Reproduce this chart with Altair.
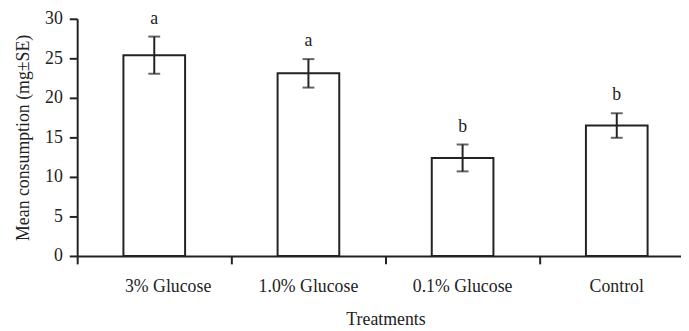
import altair as alt
import pandas as pd

treatments = ["3% Glucose", "1.0% Glucose", "0.1% Glucose", "Control"]
means = [25.4, 23.1, 12.4, 16.5]
ses = [2.35, 1.8, 1.7, 1.55]
letters = ["a", "a", "b", "b"]
y_ticks = [0, 5, 10, 15, 20, 25, 30]

df = pd.DataFrame({"treatment": treatments, "mean": means, "se": ses, "letter": letters})
df["lo"] = df["mean"] - df["se"]
df["hi"] = df["mean"] + df["se"]

FONT = "Liberation Serif"
INK = "#222222"

xscale = alt.Scale(domain=treatments, range=[0, 624], paddingInner=0, paddingOuter=0)
xaxis = alt.Axis(
    title="Treatments", titleFont=FONT, titleFontSize=18, titleFontWeight="normal", titleColor=INK,
    titleX=312, titleY=69, titleBaseline="alphabetic", titleAlign="center", titleAnchor="middle",
    labelFont=FONT, labelFontSize=18, labelColor=INK, labelPadding=14, labelAngle=0,
    labelOverlap=False, labelAlign="center", labelFlush=False,
    labelOffset={"condition": {"test": "datum.value === '3% Glucose'", "value": 14}, "value": 0},
    bandPosition=0, tickSize=8, tickWidth=2, tickColor=INK, domainColor=INK, domainWidth=2,
    grid=False,
)
yaxis = alt.Axis(
    title="Mean consumption (mg±SE)", titleFont=FONT, titleFontSize=18, titleFontWeight="normal",
    titleColor=INK, titleX=-49.5, titleY=120, titleBaseline="alphabetic", titleAlign="center",
    titleAngle=-90, labelOverlap=False, labelFlush=False,
    values=y_ticks, labelFont=FONT, labelFontSize=18, labelColor=INK, labelPadding=7,
    tickSize=8, tickWidth=2, tickColor=INK, domainColor=INK, domainWidth=2, grid=False,
)
yscale = alt.Scale(domain=[0, 30], nice=False)


def xe():
    return alt.X("treatment:N", scale=xscale, axis=xaxis, sort=treatments)


def ye(field):
    return alt.Y(field, type="quantitative", scale=yscale, axis=yaxis)


base = alt.Chart(df)

bars = base.mark_bar(fill="white", stroke=INK, strokeWidth=2, width=alt.RelativeBandSize(0.4)).encode(
    x=xe(), y=ye("mean")
)
rules = base.mark_rule(color=INK, strokeWidth=2).encode(x=xe(), y=ye("lo"), y2="hi:Q")
cap_hi = base.mark_tick(color=INK, orient="horizontal", size=12, thickness=2).encode(x=xe(), y=ye("hi"))
cap_lo = base.mark_tick(color=INK, orient="horizontal", size=12, thickness=2).encode(x=xe(), y=ye("lo"))
labels = base.mark_text(font=FONT, fontSize=18, color=INK, baseline="alphabetic", dy=-13).encode(
    x=xe(), y=ye("hi"), text="letter:N"
)

chart = alt.layer(bars, rules, cap_hi, cap_lo, labels).properties(
    width=611, height=240,
    autosize=alt.AutoSizeParams(type="none"),
    padding={"left": 70, "top": 9, "right": 0, "bottom": 74},
).configure_view(stroke=None)

chart.save("out.html", embed_options={"renderer": "svg", "actions": False})
